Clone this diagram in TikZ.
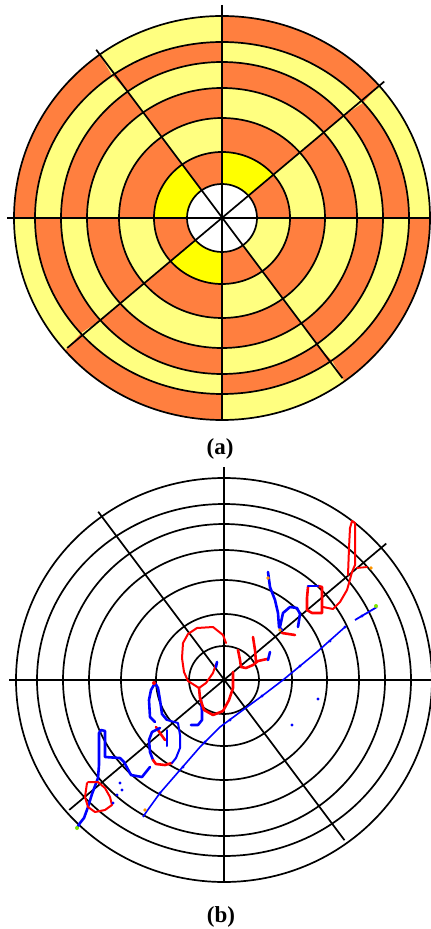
\documentclass[tikz,border=0pt]{standalone}
\usepackage{fontspec}
\setmainfont{Liberation Serif}
\definecolor{ringorange}{RGB}{255,127,63}
\definecolor{ringpale}{RGB}{255,255,128}
\definecolor{ringyellow}{RGB}{255,255,0}
\definecolor{penred}{RGB}{255,0,0}
\definecolor{penblue}{RGB}{0,0,255}
\definecolor{pengreen}{RGB}{128,230,0}
\definecolor{penorange}{RGB}{255,150,0}
\begin{document}
\begin{tikzpicture}[x=0.5pt, y=0.5pt,
    ringline/.style={line width=0.85pt},
    axisline/.style={line width=1pt},
    redpen/.style={penred, line width=1.3pt, line join=round, line cap=round},
    bluepen/.style={penblue, line width=1.3pt, line join=round, line cap=round},
    caption/.style={font=\fontsize{11.5}{13}\selectfont\bfseries}]

    \useasboundingbox (0,0) rectangle (431,-929);
    \fill[white] (0,0) rectangle (431,-929);

    \coordinate (topc) at (222,-218);
    \coordinate (botc) at (224,-680);

    % Coloured sectors of the top disc
    \begin{scope}[shift={(topc)}]
        \foreach \s/\a/\b in {0/0/41, 1/41/90, 2/90/126, 3/126/180,
                              4/180/221, 5/221/270, 6/270/306, 7/306/360}{
            \foreach \k/\ix/\iy/\ox/\oy in {1/35/34/68/66, 2/68/66/103/100,
                    3/103/100/135/130, 4/135/130/161/156,
                    5/161/156/187/176, 6/187/176/208/202}{
                \pgfmathtruncatemacro{\odd}{mod(\s+\k,2)}
                \ifnum\odd=1 \def\col{ringorange}\else \def\col{ringpale}\fi
                \ifnum\k=1 \ifnum\s<6 \ifodd\s \def\col{ringyellow}\fi\fi\fi
                \fill[\col] (\a:{\ix} and {\iy}) arc[start angle=\a, end angle=\b, x radius=\ix, y radius=\iy]
                    -- (\b:{\ox} and {\oy}) arc[start angle=\b, end angle=\a, x radius=\ox, y radius=\oy] -- cycle;
            }
        }
    \end{scope}

    % Rings, diagonals and axes (both discs)
    \foreach \c in {topc, botc}{
        \begin{scope}[shift={(\c)}]
            \foreach \rx/\ry in {35/34, 68/66, 103/100, 135/130, 161/156, 187/176, 208/202}
                \draw[ringline] (0,0) ellipse[x radius=\rx, y radius=\ry];
            \draw[ringline] (221:205 and 198) -- (41:215 and 208);
            \draw[ringline] (306:205 and 198) -- (126:214 and 208);
            \draw[axisline] (-215,0) -- (208,0);
            \draw[axisline] (0,213) -- (0,-201);
        \end{scope}
    }

    % Pen traces on the bottom disc
    \begin{scope}[yscale=-1]
        % baseline
        \draw[penblue, line width=0.8pt, line join=round] (143,817) -- (147,811) -- (160,793) -- (180,770)
            -- (200,747) -- (220,727) -- (247,707) -- (262,696) -- (283,680) -- (317,652) -- (345,627);
        \draw[penblue, line width=0.9pt] (355,620) -- (377,607);
        \foreach \p in {(160,793), (183,767), (205,742), (230,720), (262,696), (300,666), (330,641), (345,627), (362,616)}
            \fill[penblue] \p circle[radius=1.6];
        \fill[penblue] (318,699) circle[radius=1.6] (292,725) circle[radius=1.6];

        % first letters
        \draw[bluepen] (77,828) -- (80,823) -- (84,818) -- (88,807) -- (92,794) -- (95,786) -- (98,778)
            -- (99,765) -- (99,745) -- (99,733) -- (101,730) -- (105,731) -- (105,745) -- (105,757)
            -- (120,758) -- (124,762) -- (131,775) -- (142,777) -- (150,767);
        \draw[redpen, line width=1pt] (88,782) -- (98,782) -- (105,788) -- (110,797) -- (112,805) -- (105,810)
            -- (95,812) -- (88,807) -- (85,797) -- (87,783);
        \fill[penblue] (120,783) circle[radius=1.6] (122,790) circle[radius=1.6] (117,795) circle[radius=1.6]
            (113,803) circle[radius=1.6];

        % middle letters
        \draw[bluepen] (155,683) -- (151,690) -- (149,700) -- (150,717) -- (155,722);
        \draw[bluepen] (155,683) -- (158,688) -- (160,700) -- (162,714) -- (167,720);
        \fill[penred] (154,683) circle[radius=2];
        \draw[redpen] (156,727) -- (160,733) -- (165,740);
        \draw[bluepen] (160,728) -- (152,732) -- (149,740) -- (150,752) -- (153,760);
        \draw[redpen] (153,760) -- (156,764) -- (165,765) -- (172,763);
        \draw[bluepen, line width=1pt] (167,720) -- (178,723) -- (180,735) -- (180,748) -- (176,758) -- (172,763);
        \draw[bluepen, line width=1pt] (167,730) -- (167,746);
        \draw[bluepen] (201,700) -- (202,712) -- (202,720) -- (198,725) -- (191,725);

        % large loop
        \draw[redpen, line width=1pt] (226,643) -- (223,635) -- (213,627) -- (197,628) -- (188,634)
            -- (183,643) -- (182,658) -- (184,672) -- (188,681) -- (199,688) -- (206,683) -- (213,673) -- (216,664);
        \draw[redpen] (199,688) -- (200,698) -- (204,710) -- (213,715) -- (223,711) -- (229,700)
            -- (233,688) -- (233,672);
        \draw[bluepen] (216,667) -- (217,662);

        % right letters
        \draw[redpen] (238,650) -- (240,660) -- (241,667) -- (246,668) -- (253,665) -- (258,661) -- (267,659);
        \draw[redpen] (253,637) -- (255,650) -- (256,662);
        \draw[bluepen] (270,652) -- (268,660);
        \draw[bluepen] (268,572) -- (270,587) -- (275,600) -- (278,613) -- (279,627) -- (282,630);
        \draw[bluepen] (280,627) -- (283,613) -- (290,607) -- (297,608) -- (300,614) -- (298,627);
        \draw[redpen] (282,633) -- (295,635);
        \draw[redpen] (322,600) -- (322,587) -- (318,586) (308,587) -- (307,598) -- (307,610) -- (312,613)
            -- (322,613) -- (322,600);
        \draw[bluepen] (308,586) -- (318,586);
        \draw[redpen, line width=1pt] (323,607) -- (333,609) -- (340,602) -- (347,590) -- (349,583) -- (352,572);
        \draw[redpen, line width=1pt] (348,575) -- (349,548) -- (350,528) -- (352,521) -- (355,523)
            -- (355,545) -- (355,565) -- (352,572);
        \draw[redpen, line width=0.9pt] (357,568) -- (367,567);

        % pen-down and pen-up marks
        \fill[pengreen] (77,828) circle[radius=2] (376,606) circle[radius=2];
        \fill[penorange] (145,810) circle[radius=1.8] (268,578) circle[radius=1.8]
            (280,630) circle[radius=1.8] (371,568) circle[radius=1.8];
    \end{scope}

    % Captions
    \node[caption] (capa) at (220,-449) {(a)};
    \node[caption] (capb) at (221,-917) {(b)};

\end{tikzpicture}
\end{document}
